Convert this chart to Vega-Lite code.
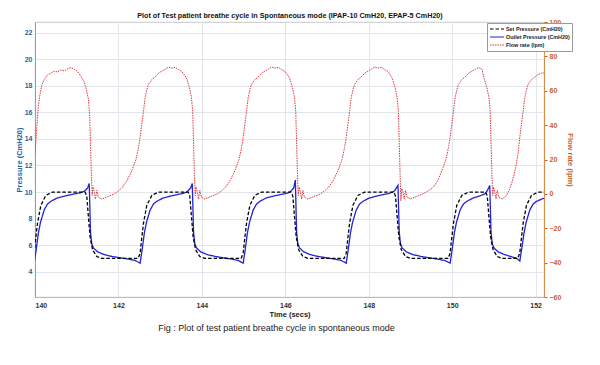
{
"$schema": "https://vega.github.io/schema/vega-lite/v6.json",
"width": 509, "height": 275,
"autosize": {"type": "none"},
"padding": {"left": 35, "top": 22, "right": 56, "bottom": 68},
"background": "white",
"config": {"font": "Liberation Sans", "view": {"stroke": "#b8bcc4", "strokeWidth": 0.8},
 "legend": {"orient": "none", "legendX": 452, "legendY": 1, "fillColor": "white", "strokeColor": "#999999", "padding": 2, "labelFontSize": 5.4, "labelFontWeight": "bold", "labelColor": "#222", "symbolType": "stroke", "symbolSize": 196, "clipHeight": 8, "rowPadding": 0, "labelLimit": 200, "symbolStrokeWidth": 1.2, "labelOffset": 1}},
"title": {"text": "Fig : Plot of test patient breathe cycle in spontaneous mode", "orient": "bottom", "fontSize": 9, "fontWeight": "normal", "color": "#222222", "offset": 6, "dx": -13, "anchor": "middle"},
"datasets": {
"pressure": [
{"t":139.98,"v":4.65,"s":"out"},{"t":140.03,"v":5.7,"s":"out"},{"t":140.08,"v":6.9,"s":"out"},{"t":140.13,"v":7.7,"s":"out"},{"t":140.22,"v":8.65,"s":"out"},{"t":140.30,"v":9.1,"s":"out"},{"t":140.38,"v":9.3,"s":"out"},{"t":140.53,"v":9.55,"s":"out"},{"t":140.68,"v":9.68,"s":"out"},{"t":140.83,"v":9.78,"s":"out"},{"t":140.98,"v":9.88,"s":"out"},{"t":141.10,"v":9.95,"s":"out"},{"t":141.20,"v":10.1,"s":"out"},{"t":141.26,"v":10.3,"s":"out"},{"t":141.30,"v":10.65,"s":"out"},
{"t":141.33,"v":7.0,"s":"out"},{"t":141.36,"v":6.1,"s":"out"},{"t":141.40,"v":5.8,"s":"out"},{"t":141.50,"v":5.5,"s":"out"},{"t":141.65,"v":5.3,"s":"out"},{"t":141.85,"v":5.15,"s":"out"},{"t":142.05,"v":5.05,"s":"out"},{"t":142.25,"v":4.95,"s":"out"},{"t":142.40,"v":4.85,"s":"out"},
{"t":142.52,"v":4.65,"s":"out"},{"t":142.57,"v":5.7,"s":"out"},{"t":142.62,"v":6.9,"s":"out"},{"t":142.67,"v":7.7,"s":"out"},{"t":142.76,"v":8.65,"s":"out"},{"t":142.84,"v":9.1,"s":"out"},{"t":142.92,"v":9.3,"s":"out"},{"t":143.07,"v":9.55,"s":"out"},{"t":143.22,"v":9.68,"s":"out"},{"t":143.37,"v":9.78,"s":"out"},{"t":143.52,"v":9.88,"s":"out"},{"t":143.62,"v":9.97,"s":"out"},{"t":143.67,"v":10.1,"s":"out"},{"t":143.73,"v":10.3,"s":"out"},{"t":143.77,"v":10.65,"s":"out"},
{"t":143.80,"v":7.0,"s":"out"},{"t":143.83,"v":6.1,"s":"out"},{"t":143.87,"v":5.8,"s":"out"},{"t":143.97,"v":5.5,"s":"out"},{"t":144.12,"v":5.3,"s":"out"},{"t":144.32,"v":5.15,"s":"out"},{"t":144.52,"v":5.05,"s":"out"},{"t":144.72,"v":4.95,"s":"out"},{"t":144.87,"v":4.85,"s":"out"},
{"t":144.99,"v":4.65,"s":"out"},{"t":145.04,"v":5.7,"s":"out"},{"t":145.09,"v":6.9,"s":"out"},{"t":145.14,"v":7.7,"s":"out"},{"t":145.23,"v":8.65,"s":"out"},{"t":145.31,"v":9.1,"s":"out"},{"t":145.39,"v":9.3,"s":"out"},{"t":145.54,"v":9.55,"s":"out"},{"t":145.69,"v":9.68,"s":"out"},{"t":145.84,"v":9.78,"s":"out"},{"t":145.99,"v":9.88,"s":"out"},{"t":146.09,"v":9.97,"s":"out"},{"t":146.14,"v":10.1,"s":"out"},{"t":146.20,"v":10.3,"s":"out"},{"t":146.24,"v":10.9,"s":"out"},
{"t":146.27,"v":7.0,"s":"out"},{"t":146.30,"v":6.1,"s":"out"},{"t":146.34,"v":5.8,"s":"out"},{"t":146.44,"v":5.5,"s":"out"},{"t":146.59,"v":5.3,"s":"out"},{"t":146.79,"v":5.15,"s":"out"},{"t":146.99,"v":5.05,"s":"out"},{"t":147.19,"v":4.95,"s":"out"},{"t":147.34,"v":4.85,"s":"out"},
{"t":147.46,"v":4.65,"s":"out"},{"t":147.51,"v":5.7,"s":"out"},{"t":147.56,"v":6.9,"s":"out"},{"t":147.61,"v":7.7,"s":"out"},{"t":147.70,"v":8.65,"s":"out"},{"t":147.78,"v":9.1,"s":"out"},{"t":147.86,"v":9.3,"s":"out"},{"t":148.01,"v":9.55,"s":"out"},{"t":148.16,"v":9.68,"s":"out"},{"t":148.31,"v":9.78,"s":"out"},{"t":148.46,"v":9.88,"s":"out"},{"t":148.56,"v":9.97,"s":"out"},{"t":148.62,"v":10.1,"s":"out"},{"t":148.66,"v":10.3,"s":"out"},{"t":148.70,"v":10.5,"s":"out"},
{"t":148.73,"v":7.0,"s":"out"},{"t":148.76,"v":6.1,"s":"out"},{"t":148.80,"v":5.8,"s":"out"},{"t":148.90,"v":5.5,"s":"out"},{"t":149.05,"v":5.3,"s":"out"},{"t":149.25,"v":5.15,"s":"out"},{"t":149.45,"v":5.05,"s":"out"},{"t":149.65,"v":4.95,"s":"out"},{"t":149.82,"v":4.85,"s":"out"},
{"t":149.95,"v":4.65,"s":"out"},{"t":150.00,"v":5.7,"s":"out"},{"t":150.05,"v":6.9,"s":"out"},{"t":150.10,"v":7.7,"s":"out"},{"t":150.19,"v":8.65,"s":"out"},{"t":150.27,"v":9.1,"s":"out"},{"t":150.35,"v":9.3,"s":"out"},{"t":150.50,"v":9.55,"s":"out"},{"t":150.65,"v":9.7,"s":"out"},{"t":150.78,"v":9.85,"s":"out"},{"t":150.84,"v":10.1,"s":"out"},{"t":150.87,"v":10.3,"s":"out"},{"t":150.90,"v":10.5,"s":"out"},
{"t":150.93,"v":7.0,"s":"out"},{"t":150.96,"v":6.1,"s":"out"},{"t":151.00,"v":5.8,"s":"out"},{"t":151.10,"v":5.5,"s":"out"},{"t":151.25,"v":5.3,"s":"out"},{"t":151.45,"v":5.1,"s":"out"},{"t":151.55,"v":5.0,"s":"out"},
{"t":151.62,"v":4.8,"s":"out"},{"t":151.67,"v":5.8,"s":"out"},{"t":151.72,"v":6.9,"s":"out"},{"t":151.77,"v":7.7,"s":"out"},{"t":151.86,"v":8.65,"s":"out"},{"t":151.94,"v":9.1,"s":"out"},{"t":152.02,"v":9.3,"s":"out"},{"t":152.17,"v":9.5,"s":"out"},{"t":152.25,"v":9.55,"s":"out"},
{"t":139.93,"v":5.0,"s":"set"},{"t":139.98,"v":5.4,"s":"set"},{"t":140.01,"v":6.3,"s":"set"},{"t":140.06,"v":7.65,"s":"set"},{"t":140.14,"v":9.0,"s":"set"},{"t":140.26,"v":9.75,"s":"set"},{"t":140.42,"v":10.0,"s":"set"},{"t":141.20,"v":10.0,"s":"set"},{"t":141.24,"v":9.7,"s":"set"},{"t":141.28,"v":8.15,"s":"set"},{"t":141.32,"v":6.65,"s":"set"},{"t":141.38,"v":5.65,"s":"set"},{"t":141.48,"v":5.15,"s":"set"},{"t":141.60,"v":5.0,"s":"set"},
{"t":142.47,"v":5.0,"s":"set"},{"t":142.52,"v":5.4,"s":"set"},{"t":142.55,"v":6.3,"s":"set"},{"t":142.60,"v":7.65,"s":"set"},{"t":142.68,"v":9.0,"s":"set"},{"t":142.80,"v":9.75,"s":"set"},{"t":142.96,"v":10.0,"s":"set"},{"t":143.67,"v":10.0,"s":"set"},{"t":143.71,"v":9.7,"s":"set"},{"t":143.75,"v":8.15,"s":"set"},{"t":143.79,"v":6.65,"s":"set"},{"t":143.85,"v":5.65,"s":"set"},{"t":143.95,"v":5.15,"s":"set"},{"t":144.07,"v":5.0,"s":"set"},
{"t":144.94,"v":5.0,"s":"set"},{"t":144.99,"v":5.4,"s":"set"},{"t":145.02,"v":6.3,"s":"set"},{"t":145.07,"v":7.65,"s":"set"},{"t":145.15,"v":9.0,"s":"set"},{"t":145.27,"v":9.75,"s":"set"},{"t":145.43,"v":10.0,"s":"set"},{"t":146.14,"v":10.0,"s":"set"},{"t":146.18,"v":9.7,"s":"set"},{"t":146.22,"v":8.15,"s":"set"},{"t":146.26,"v":6.65,"s":"set"},{"t":146.32,"v":5.65,"s":"set"},{"t":146.42,"v":5.15,"s":"set"},{"t":146.54,"v":5.0,"s":"set"},
{"t":147.41,"v":5.0,"s":"set"},{"t":147.46,"v":5.4,"s":"set"},{"t":147.49,"v":6.3,"s":"set"},{"t":147.54,"v":7.65,"s":"set"},{"t":147.62,"v":9.0,"s":"set"},{"t":147.74,"v":9.75,"s":"set"},{"t":147.90,"v":10.0,"s":"set"},{"t":148.60,"v":10.0,"s":"set"},{"t":148.64,"v":9.7,"s":"set"},{"t":148.68,"v":8.15,"s":"set"},{"t":148.72,"v":6.65,"s":"set"},{"t":148.78,"v":5.65,"s":"set"},{"t":148.88,"v":5.15,"s":"set"},{"t":149.00,"v":5.0,"s":"set"},
{"t":149.90,"v":5.0,"s":"set"},{"t":149.95,"v":5.4,"s":"set"},{"t":149.98,"v":6.3,"s":"set"},{"t":150.03,"v":7.65,"s":"set"},{"t":150.11,"v":9.0,"s":"set"},{"t":150.23,"v":9.75,"s":"set"},{"t":150.39,"v":10.0,"s":"set"},{"t":150.80,"v":10.0,"s":"set"},{"t":150.84,"v":9.7,"s":"set"},{"t":150.88,"v":8.15,"s":"set"},{"t":150.92,"v":6.65,"s":"set"},{"t":150.98,"v":5.65,"s":"set"},{"t":151.08,"v":5.15,"s":"set"},{"t":151.20,"v":5.0,"s":"set"},
{"t":151.57,"v":5.0,"s":"set"},{"t":151.62,"v":5.4,"s":"set"},{"t":151.65,"v":6.3,"s":"set"},{"t":151.70,"v":7.65,"s":"set"},{"t":151.78,"v":9.0,"s":"set"},{"t":151.90,"v":9.75,"s":"set"},{"t":152.06,"v":10.0,"s":"set"},{"t":152.25,"v":10.0,"s":"set"}
],
"flow": [
{"t":139.90,"v":12,"s":"flow"},{"t":139.96,"v":18,"s":"flow"},{"t":140.00,"v":24,"s":"flow"},{"t":140.04,"v":38,"s":"flow"},{"t":140.08,"v":51,"s":"flow"},{"t":140.12,"v":58,"s":"flow"},{"t":140.16,"v":63,"s":"flow"},{"t":140.22,"v":66.5,"s":"flow"},{"t":140.30,"v":69.2,"s":"flow"},{"t":140.38,"v":70.2,"s":"flow"},{"t":140.46,"v":71.4,"s":"flow"},{"t":140.54,"v":70.9,"s":"flow"},{"t":140.62,"v":72.1,"s":"flow"},{"t":140.70,"v":71.6,"s":"flow"},{"t":140.78,"v":72.8,"s":"flow"},{"t":140.86,"v":73.4,"s":"flow"},{"t":140.94,"v":72.6,"s":"flow"},{"t":141.02,"v":71.2,"s":"flow"},{"t":141.10,"v":68.5,"s":"flow"},{"t":141.18,"v":65,"s":"flow"},{"t":141.23,"v":61,"s":"flow"},{"t":141.28,"v":55,"s":"flow"},{"t":141.31,"v":46,"s":"flow"},{"t":141.33,"v":30,"s":"flow"},{"t":141.35,"v":12,"s":"flow"},{"t":141.37,"v":-1,"s":"flow"},{"t":141.39,"v":4,"s":"flow"},{"t":141.42,"v":1,"s":"flow"},{"t":141.45,"v":-3,"s":"flow"},{"t":141.48,"v":2,"s":"flow"},{"t":141.52,"v":-2,"s":"flow"},{"t":141.60,"v":-3,"s":"flow"},{"t":141.75,"v":-1.5,"s":"flow"},{"t":141.90,"v":0,"s":"flow"},{"t":142.00,"v":1.7,"s":"flow"},{"t":142.10,"v":4,"s":"flow"},{"t":142.20,"v":7.5,"s":"flow"},
{"t":142.32,"v":13.4,"s":"flow"},{"t":142.42,"v":20,"s":"flow"},{"t":142.48,"v":27,"s":"flow"},{"t":142.52,"v":33,"s":"flow"},{"t":142.56,"v":40.6,"s":"flow"},{"t":142.60,"v":48,"s":"flow"},{"t":142.64,"v":56,"s":"flow"},{"t":142.68,"v":60.5,"s":"flow"},{"t":142.72,"v":63.8,"s":"flow"},{"t":142.80,"v":66.5,"s":"flow"},{"t":142.88,"v":68,"s":"flow"},{"t":142.96,"v":70.2,"s":"flow"},{"t":143.04,"v":71.4,"s":"flow"},{"t":143.12,"v":72.5,"s":"flow"},{"t":143.20,"v":73.8,"s":"flow"},{"t":143.28,"v":73.2,"s":"flow"},{"t":143.36,"v":73.6,"s":"flow"},{"t":143.44,"v":72.3,"s":"flow"},{"t":143.52,"v":71.2,"s":"flow"},{"t":143.63,"v":67.5,"s":"flow"},{"t":143.70,"v":62,"s":"flow"},{"t":143.75,"v":56,"s":"flow"},{"t":143.78,"v":48,"s":"flow"},{"t":143.80,"v":30,"s":"flow"},{"t":143.82,"v":12,"s":"flow"},{"t":143.84,"v":-1,"s":"flow"},{"t":143.86,"v":4,"s":"flow"},{"t":143.89,"v":1,"s":"flow"},{"t":143.92,"v":-3,"s":"flow"},{"t":143.95,"v":2,"s":"flow"},{"t":143.99,"v":-2,"s":"flow"},{"t":144.07,"v":-3,"s":"flow"},{"t":144.22,"v":-1.5,"s":"flow"},{"t":144.37,"v":0,"s":"flow"},{"t":144.47,"v":1.7,"s":"flow"},{"t":144.57,"v":4,"s":"flow"},{"t":144.67,"v":7.5,"s":"flow"},
{"t":144.79,"v":13.4,"s":"flow"},{"t":144.89,"v":20,"s":"flow"},{"t":144.95,"v":27,"s":"flow"},{"t":144.99,"v":33,"s":"flow"},{"t":145.03,"v":40.6,"s":"flow"},{"t":145.07,"v":48,"s":"flow"},{"t":145.11,"v":56,"s":"flow"},{"t":145.15,"v":60.5,"s":"flow"},{"t":145.19,"v":63.8,"s":"flow"},{"t":145.27,"v":66.5,"s":"flow"},{"t":145.35,"v":68,"s":"flow"},{"t":145.43,"v":70.2,"s":"flow"},{"t":145.51,"v":71.4,"s":"flow"},{"t":145.59,"v":72.5,"s":"flow"},{"t":145.67,"v":73.8,"s":"flow"},{"t":145.75,"v":73.2,"s":"flow"},{"t":145.83,"v":73.6,"s":"flow"},{"t":145.91,"v":72.3,"s":"flow"},{"t":145.99,"v":71.2,"s":"flow"},{"t":146.10,"v":67.5,"s":"flow"},{"t":146.17,"v":62,"s":"flow"},{"t":146.22,"v":56,"s":"flow"},{"t":146.25,"v":48,"s":"flow"},{"t":146.27,"v":30,"s":"flow"},{"t":146.29,"v":12,"s":"flow"},{"t":146.31,"v":-1,"s":"flow"},{"t":146.33,"v":4,"s":"flow"},{"t":146.36,"v":1,"s":"flow"},{"t":146.39,"v":-3,"s":"flow"},{"t":146.42,"v":2,"s":"flow"},{"t":146.46,"v":-2,"s":"flow"},{"t":146.54,"v":-3,"s":"flow"},{"t":146.69,"v":-1.5,"s":"flow"},{"t":146.84,"v":0,"s":"flow"},{"t":146.94,"v":1.7,"s":"flow"},{"t":147.04,"v":4,"s":"flow"},{"t":147.14,"v":7.5,"s":"flow"},
{"t":147.26,"v":13.4,"s":"flow"},{"t":147.36,"v":20,"s":"flow"},{"t":147.42,"v":27,"s":"flow"},{"t":147.46,"v":33,"s":"flow"},{"t":147.50,"v":40.6,"s":"flow"},{"t":147.54,"v":48,"s":"flow"},{"t":147.58,"v":56,"s":"flow"},{"t":147.62,"v":60.5,"s":"flow"},{"t":147.66,"v":63.8,"s":"flow"},{"t":147.74,"v":66.5,"s":"flow"},{"t":147.82,"v":68,"s":"flow"},{"t":147.90,"v":70.2,"s":"flow"},{"t":147.98,"v":71.4,"s":"flow"},{"t":148.06,"v":72.5,"s":"flow"},{"t":148.14,"v":73.8,"s":"flow"},{"t":148.22,"v":73.2,"s":"flow"},{"t":148.30,"v":73.6,"s":"flow"},{"t":148.38,"v":72.3,"s":"flow"},{"t":148.46,"v":71.2,"s":"flow"},{"t":148.56,"v":67.5,"s":"flow"},{"t":148.63,"v":62,"s":"flow"},{"t":148.68,"v":56,"s":"flow"},{"t":148.71,"v":48,"s":"flow"},{"t":148.73,"v":30,"s":"flow"},{"t":148.75,"v":12,"s":"flow"},{"t":148.77,"v":-4,"s":"flow"},{"t":148.79,"v":3,"s":"flow"},{"t":148.82,"v":1,"s":"flow"},{"t":148.85,"v":-3,"s":"flow"},{"t":148.88,"v":2,"s":"flow"},{"t":148.92,"v":-2,"s":"flow"},{"t":149.00,"v":-3,"s":"flow"},{"t":149.15,"v":-1.5,"s":"flow"},{"t":149.30,"v":0,"s":"flow"},{"t":149.42,"v":1.7,"s":"flow"},{"t":149.55,"v":4,"s":"flow"},{"t":149.65,"v":7.5,"s":"flow"},
{"t":149.75,"v":13.4,"s":"flow"},{"t":149.85,"v":20,"s":"flow"},{"t":149.91,"v":27,"s":"flow"},{"t":149.95,"v":33,"s":"flow"},{"t":149.99,"v":40.6,"s":"flow"},{"t":150.03,"v":48,"s":"flow"},{"t":150.07,"v":56,"s":"flow"},{"t":150.11,"v":60.5,"s":"flow"},{"t":150.15,"v":63.8,"s":"flow"},{"t":150.23,"v":66.5,"s":"flow"},{"t":150.31,"v":68,"s":"flow"},{"t":150.39,"v":70.2,"s":"flow"},{"t":150.47,"v":71.4,"s":"flow"},{"t":150.55,"v":72.5,"s":"flow"},{"t":150.63,"v":73.5,"s":"flow"},{"t":150.71,"v":72.8,"s":"flow"},{"t":150.76,"v":67.5,"s":"flow"},{"t":150.83,"v":62,"s":"flow"},{"t":150.88,"v":56,"s":"flow"},{"t":150.91,"v":48,"s":"flow"},{"t":150.93,"v":30,"s":"flow"},{"t":150.95,"v":12,"s":"flow"},{"t":150.97,"v":-1,"s":"flow"},{"t":150.99,"v":4,"s":"flow"},{"t":151.02,"v":1,"s":"flow"},{"t":151.05,"v":-3,"s":"flow"},{"t":151.08,"v":2,"s":"flow"},{"t":151.12,"v":-2,"s":"flow"},{"t":151.20,"v":-3,"s":"flow"},{"t":151.30,"v":-1,"s":"flow"},{"t":151.38,"v":3,"s":"flow"},{"t":151.45,"v":8,"s":"flow"},
{"t":151.52,"v":15,"s":"flow"},{"t":151.58,"v":24,"s":"flow"},{"t":151.62,"v":33,"s":"flow"},{"t":151.66,"v":40.6,"s":"flow"},{"t":151.70,"v":48,"s":"flow"},{"t":151.74,"v":56,"s":"flow"},{"t":151.78,"v":60.5,"s":"flow"},{"t":151.82,"v":63.8,"s":"flow"},{"t":151.90,"v":66.5,"s":"flow"},{"t":151.98,"v":68,"s":"flow"},{"t":152.06,"v":69.5,"s":"flow"},{"t":152.14,"v":70.2,"s":"flow"},{"t":152.22,"v":70.5,"s":"flow"}
]
},
"resolve": {"scale": {"y": "independent"}, "axis": {"x": "independent"}},
"layer": [
{
 "data": {"name": "pressure"},
 "mark": {"type": "line", "clip": true, "strokeWidth": 1.3},
 "encoding": {
  "x": {"field": "t", "type": "quantitative", "scale": {"domain": [140, 152.2], "nice": false, "zero": false},
   "axis": {"orient": "bottom", "values": [140,142,144,146,148,150,152], "format": "d", "grid": true, "gridColor": "#e1e6ec", "ticks": false, "domainColor": "#b0bcc8", "labelFontSize": 7, "labelFontWeight": "bold", "labelColor": "#333333", "labelPadding": 4, "title": "Time (secs)", "titleFontSize": 7.5, "titleFontWeight": "bold", "titleColor": "#222222", "titlePadding": 2}},
  "y": {"field": "v", "type": "quantitative", "scale": {"domain": [2.1, 22.8], "nice": false, "zero": false},
   "axis": {"orient": "left", "values": [4,6,8,10,12,14,16,18,20,22], "grid": true, "gridColor": "#e1e6ec", "ticks": false, "domainColor": "#6fa8d6", "labelFontSize": 7, "labelFontWeight": "bold", "labelColor": "#1f5fa0", "labelPadding": 3, "title": "Pressure (CmH20)", "titleFontSize": 7.5, "titleFontWeight": "bold", "titleColor": "#1f5fa0", "titlePadding": 1}},
  "detail": {"field": "s"},
  "color": {"field": "s", "type": "nominal", "title": null,
   "scale": {"domain": ["set", "out", "flow"], "range": ["#000000", "#2222d6", "#e0353a"]},
   "legend": {"labelExpr": "datum.label == 'set' ? 'Set Pressure (CmH20)' : datum.label == 'out' ? 'Outlet Pressure (CmH20)' : 'Flow rate (lpm)'"}},
  "strokeDash": {"field": "s", "type": "nominal", "title": null,
   "scale": {"domain": ["set", "out", "flow"], "range": [[3.5, 2], [1, 0], [1.5, 1]]},
   "legend": {"labelExpr": "datum.label == 'set' ? 'Set Pressure (CmH20)' : datum.label == 'out' ? 'Outlet Pressure (CmH20)' : 'Flow rate (lpm)'"}}
 }
},
{
 "data": {"name": "flow"},
 "mark": {"type": "line", "clip": true, "strokeWidth": 1.0},
 "encoding": {
  "x": {"field": "t", "type": "quantitative",
   "axis": {"orient": "top", "labels": false, "ticks": false, "domain": false, "grid": false, "title": "Plot of Test patient breathe cycle in Spontaneous mode  (IPAP-10 CmH20, EPAP-5 CmH20)", "titleFontSize": 7.2, "titleFontWeight": "bold", "titleColor": "#111111", "titlePadding": 3}},
  "y": {"field": "v", "type": "quantitative", "scale": {"domain": [-60, 100], "nice": false, "zero": false},
   "axis": {"orient": "right", "values": [-60,-40,-20,0,20,40,60,80,100], "grid": false, "ticks": true, "tickSize": 3, "tickColor": "#c8622a", "domainColor": "#e08a4a", "labelFontSize": 7, "labelFontWeight": "bold", "labelColor": "#c8622a", "labelPadding": 2, "title": "Flow rate (lpm)", "titleFontSize": 7.5, "titleFontWeight": "bold", "titleColor": "#c8622a", "titlePadding": 5}},
  "color": {"field": "s", "type": "nominal", "title": null},
  "strokeDash": {"field": "s", "type": "nominal", "title": null}
 }
}
]
}
